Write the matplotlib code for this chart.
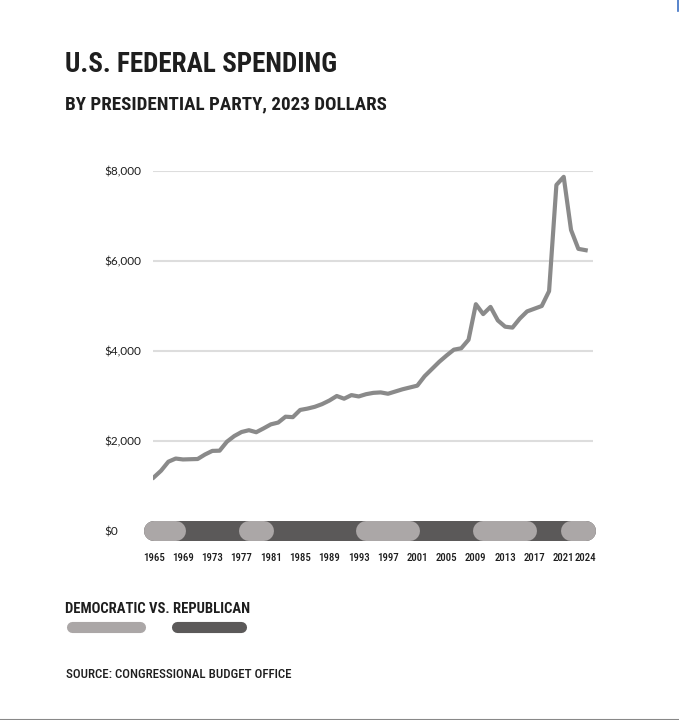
import matplotlib.pyplot as plt
from matplotlib.lines import Line2D

# === DANE ===
YEARS = list(range(1965, 2025))
SPENDING = [
    1190, 1340, 1540, 1610, 1590, 1595, 1600, 1700, 1780, 1785,
    1985, 2110, 2200, 2240, 2195, 2280, 2370, 2410, 2540, 2530,
    2690, 2720, 2760, 2820, 2900, 3000, 2940, 3020, 2990, 3040,
    3070, 3080, 3050, 3100, 3150, 3190, 3230, 3440, 3600, 3760,
    3900, 4030, 4060, 4250, 5040, 4820, 4980, 4680, 4540, 4520,
    4720, 4880, 4940, 5000, 5330, 7690, 7870, 6690, 6270, 6240,
]
TERM_STARTS = [1965, 1969, 1977, 1981, 1993, 2001, 2009, 2017, 2021]
TERM_ENDS = [1969, 1977, 1981, 1993, 2001, 2009, 2017, 2021, 2024]
TERM_PARTY = ["D", "R", "D", "R", "D", "R", "D", "R", "D"]
XTICKS = [1965, 1969, 1973, 1977, 1981, 1985, 1989, 1993, 1997, 2001,
          2005, 2009, 2013, 2017, 2021, 2024]
YTICKS = [0, 2000, 4000, 6000, 8000]

# === STYL ===
LINE_COLOR = "#8a8a8a"
GRID_COLOR = "#dddddd"
DEM_COLOR = "#aba7a7"
REP_COLOR = "#5b5959"
TEXT_COLOR = "#1e1e1e"
HAND = ["Liberation Sans Narrow", "Roboto Condensed", "Roboto", "DejaVu Sans"]
TICK_FONT = ["Lato", "DejaVu Sans"]

fig = plt.figure(figsize=(6.79, 7.2), dpi=100)
ax = fig.add_axes([153 / 679, 189 / 720, 440 / 679, 360 / 720])

# === LINIA ===
ax.plot(YEARS, SPENDING, color=LINE_COLOR, linewidth=3, solid_joinstyle="round", zorder=3)

ax.set_xlim(1964.9, 2025)
ax.set_ylim(0, 8000)
ax.set_yticks(YTICKS)
ax.set_yticklabels([f"${v:,}" for v in YTICKS], fontfamily=TICK_FONT, fontsize=8.5, color=TEXT_COLOR)
for lbl in ax.get_yticklabels():
    lbl.set_horizontalalignment("left")
ax.tick_params(axis="y", length=0, pad=35)
ax.set_xticks(XTICKS)
ax.set_xticklabels([str(y) for y in XTICKS], fontfamily=HAND, fontstretch="condensed",
                   fontweight="medium", fontsize=7.8, color=TEXT_COLOR)
ax.tick_params(axis="x", length=0, pad=16)
ax.grid(axis="y", color=GRID_COLOR, linewidth=1.5)
ax.set_axisbelow(True)
for s in ax.spines.values():
    s.set_visible(False)

# === PASEK PARTII ===
BAR_W = 14.4
ax.plot([YEARS[0], YEARS[-1]], [0, 0], color=REP_COLOR, linewidth=BAR_W,
        solid_capstyle="round", clip_on=False, zorder=4)
for start, end, party in zip(TERM_STARTS, TERM_ENDS, TERM_PARTY):
    if party != "D":
        continue
    x0 = start if start == YEARS[0] else start + 1.0
    x1 = end if end == YEARS[-1] else end - 1.0
    ax.plot([x0, x1], [0, 0], color=DEM_COLOR, linewidth=BAR_W,
            solid_capstyle="round", clip_on=False, zorder=5)

# === TYTUŁY ===
fig.text(65 / 679, 1 - 64 / 720, "U.S. FEDERAL SPENDING", fontfamily=HAND, fontstretch="condensed",
         fontweight="bold", fontsize=19.5, color=TEXT_COLOR, va="center", ha="left")
fig.text(65 / 679, 1 - 104 / 720, "BY PRESIDENTIAL PARTY, 2023 DOLLARS", fontfamily=HAND,
         fontstretch="condensed", fontweight="bold", fontsize=13.7, color=TEXT_COLOR,
         va="center", ha="left")

# === LEGENDA ===
fig.text(65 / 679, 1 - 609 / 720, "DEMOCRATIC VS. REPUBLICAN", fontfamily=HAND, fontstretch="condensed",
         fontweight="bold", fontsize=10.5, color=TEXT_COLOR, va="center", ha="left")
fig.add_artist(Line2D([72 / 679, 140 / 679], [1 - 627 / 720] * 2, color=DEM_COLOR,
                      linewidth=8, solid_capstyle="round"))
fig.add_artist(Line2D([177 / 679, 241 / 679], [1 - 627 / 720] * 2, color=REP_COLOR,
                      linewidth=8, solid_capstyle="round"))

fig.text(66 / 679, 1 - 675 / 720, "SOURCE: CONGRESSIONAL BUDGET OFFICE", fontfamily=HAND,
         fontstretch="condensed", fontweight="medium", fontsize=9.4, color=TEXT_COLOR,
         va="center", ha="left")

# === RAMKI ===
fig.add_artist(Line2D([0, 1], [0.5 / 720] * 2, color="#888888", linewidth=1.5))
fig.add_artist(Line2D([677.5 / 679] * 2, [1, 1 - 11 / 720], color="#3b6fc4", linewidth=1.2))

fig.savefig("out.png", dpi=100)
